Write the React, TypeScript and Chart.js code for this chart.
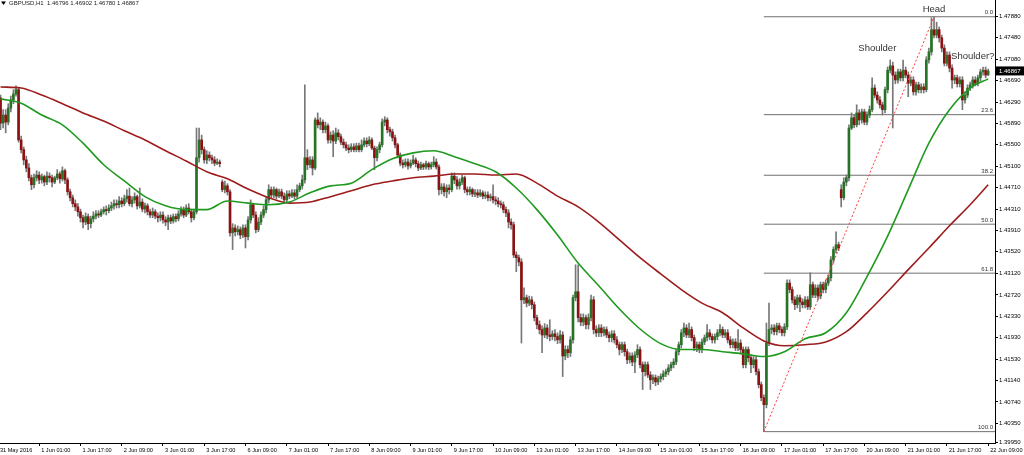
import React, { useEffect, useRef } from 'react';
import { Chart, registerables } from 'chart.js';

Chart.register(...registerables);

// ---- Data (GBPUSD H1, one bar per hour, bar index 0 = 31 May 10:00) ----
const opens = [
1.4637,1.4590,1.4605,1.4592,1.4618,1.4633,1.4644,1.4652,1.4559,1.4541,
1.4522,1.4507,1.4489,1.4476,1.4489,1.4494,1.4485,1.4491,1.4481,1.4492,
1.4489,1.4481,1.4489,1.4496,1.4487,1.4502,1.4485,1.4463,1.4452,1.4441,
1.4435,1.4426,1.4415,1.4407,1.4417,1.4404,1.4413,1.4418,1.4422,1.4420,
1.4426,1.4430,1.4428,1.4433,1.4437,1.4441,1.4439,1.4446,1.4441,1.4450,
1.4455,1.4441,1.4448,1.4454,1.4437,1.4444,1.4431,1.4437,1.4426,1.4420,
1.4426,1.4418,1.4415,1.4420,1.4411,1.4407,1.4415,1.4409,1.4417,1.4413,
1.4422,1.4430,1.4420,1.4433,1.4426,1.4415,1.4426,1.4526,1.4559,1.4541,
1.4522,1.4531,1.4526,1.4522,1.4516,1.4518,1.4481,1.4467,1.4474,1.4463,
1.4387,1.4396,1.4389,1.4393,1.4383,1.4396,1.4380,1.4411,1.4439,1.4420,
1.4393,1.4407,1.4420,1.4430,1.4448,1.4467,1.4457,1.4467,1.4455,1.4463,
1.4455,1.4448,1.4459,1.4455,1.4461,1.4455,1.4467,1.4474,1.4485,1.4526,
1.4513,1.4522,1.4507,1.4596,1.4587,1.4592,1.4578,1.4585,1.4559,1.4568,
1.4557,1.4572,1.4565,1.4555,1.4550,1.4544,1.4541,1.4546,1.4541,1.4548,
1.4541,1.4550,1.4557,1.4552,1.4559,1.4544,1.4526,1.4541,1.4550,1.4592,
1.4596,1.4578,1.4574,1.4563,1.4550,1.4531,1.4516,1.4513,1.4518,1.4511,
1.4516,1.4522,1.4515,1.4507,1.4513,1.4509,1.4515,1.4509,1.4513,1.4518,
1.4509,1.4467,1.4472,1.4463,1.4470,1.4467,1.4492,1.4485,1.4474,1.4481,
1.4489,1.4467,1.4463,1.4467,1.4459,1.4461,1.4457,1.4461,1.4455,1.4457,
1.4452,1.4454,1.4448,1.4446,1.4441,1.4439,1.4430,1.4424,1.4407,1.4402,
1.4346,1.4341,1.4333,1.4263,1.4267,1.4257,1.4263,1.4254,1.4230,1.4217,
1.4208,1.4198,1.4211,1.4198,1.4195,1.4200,1.4195,1.4189,1.4198,1.4159,
1.4171,1.4165,1.4189,1.4267,1.4278,1.4230,1.4222,1.4230,1.4217,1.4230,
1.4263,1.4208,1.4202,1.4211,1.4202,1.4208,1.4198,1.4193,1.4200,1.4189,
1.4180,1.4171,1.4180,1.4167,1.4152,1.4159,1.4148,1.4161,1.4171,1.4143,
1.4130,1.4143,1.4124,1.4115,1.4119,1.4111,1.4117,1.4121,1.4126,1.4130,
1.4137,1.4143,1.4148,1.4167,1.4180,1.4202,1.4211,1.4198,1.4208,1.4193,
1.4174,1.4180,1.4171,1.4185,1.4193,1.4202,1.4195,1.4189,1.4195,1.4202,
1.4208,1.4198,1.4202,1.4189,1.4180,1.4185,1.4174,1.4183,1.4171,1.4143,
1.4171,1.4156,1.4143,1.4152,1.4130,1.4106,1.4082,1.4069,1.4183,1.4208,
1.4211,1.4204,1.4215,1.4208,1.4202,1.4213,1.4294,1.4282,1.4263,1.4254,
1.4267,1.4259,1.4254,1.4263,1.4250,1.4291,1.4272,1.4285,1.4270,1.4291,
1.4282,1.4294,1.4304,1.4337,1.4356,1.4365,1.4467,1.4452,1.4481,1.4489,
1.4581,1.4600,1.4587,1.4609,1.4596,1.4611,1.4592,1.4605,1.4615,1.4655,
1.4642,1.4633,1.4624,1.4615,1.4652,1.4688,1.4696,1.4679,1.4670,1.4685,
1.4674,1.4688,1.4679,1.4664,1.4670,1.4648,1.4661,1.4652,1.4657,1.4652,
1.4707,1.4722,1.4763,1.4753,1.4763,1.4748,1.4729,1.4701,1.4716,1.4692,
1.4670,1.4674,1.4663,1.4670,1.4633,1.4642,1.4655,1.4661,1.4670,1.4664,
1.4674,1.4685,1.4688,1.46796];

const highs = [
1.4642,1.4615,1.4615,1.4626,1.4640,1.4652,1.4659,1.4655,1.4566,1.4546,
1.4529,1.4515,1.4494,1.4496,1.4502,1.4500,1.4496,1.4494,1.4500,1.4498,
1.4494,1.4492,1.4504,1.4500,1.4509,1.4505,1.4489,1.4468,1.4457,1.4448,
1.4441,1.4431,1.4420,1.4424,1.4422,1.4418,1.4426,1.4428,1.4428,1.4431,
1.4435,1.4437,1.4439,1.4444,1.4448,1.4448,1.4454,1.4452,1.4457,1.4467,
1.4470,1.4454,1.4461,1.4457,1.4470,1.4450,1.4442,1.4441,1.4431,1.4433,
1.4430,1.4424,1.4426,1.4426,1.4417,1.4420,1.4420,1.4422,1.4422,1.4428,
1.4435,1.4435,1.4439,1.4441,1.4431,1.4431,1.4581,1.4581,1.4568,1.4546,
1.4539,1.4537,1.4531,1.4528,1.4524,1.4522,1.4485,1.4483,1.4478,1.4467,
1.4404,1.4402,1.4400,1.4398,1.4402,1.4402,1.4417,1.4448,1.4442,1.4426,
1.4415,1.4426,1.4437,1.4454,1.4476,1.4472,1.4472,1.4470,1.4468,1.4468,
1.4461,1.4465,1.4465,1.4467,1.4467,1.4476,1.4479,1.4494,1.4661,1.4541,
1.4528,1.4528,1.4600,1.4609,1.4600,1.4596,1.4592,1.4589,1.4574,1.4576,
1.4581,1.4578,1.4570,1.4561,1.4555,1.4550,1.4552,1.4552,1.4553,1.4553,
1.4559,1.4563,1.4563,1.4565,1.4563,1.4548,1.4546,1.4555,1.4598,1.4602,
1.4600,1.4583,1.4579,1.4568,1.4553,1.4535,1.4522,1.4524,1.4524,1.4522,
1.4531,1.4526,1.4520,1.4518,1.4516,1.4520,1.4518,1.4518,1.4528,1.4524,
1.4513,1.4478,1.4478,1.4476,1.4476,1.4498,1.4498,1.4491,1.4487,1.4494,
1.4492,1.4472,1.4472,1.4470,1.4467,1.4467,1.4467,1.4465,1.4463,1.4463,
1.4459,1.4476,1.4454,1.4452,1.4446,1.4444,1.4435,1.4430,1.4413,1.4407,
1.4352,1.4346,1.4339,1.4285,1.4272,1.4270,1.4269,1.4259,1.4235,1.4224,
1.4215,1.4219,1.4217,1.4226,1.4206,1.4208,1.4202,1.4206,1.4204,1.4178,
1.4178,1.4195,1.4272,1.4328,1.4328,1.4237,1.4237,1.4235,1.4237,1.4272,
1.4269,1.4215,1.4217,1.4217,1.4213,1.4213,1.4204,1.4206,1.4206,1.4195,
1.4185,1.4185,1.4185,1.4172,1.4165,1.4165,1.4167,1.4180,1.4176,1.4148,
1.4148,1.4148,1.4130,1.4124,1.4124,1.4122,1.4126,1.4132,1.4135,1.4143,
1.4148,1.4154,1.4172,1.4185,1.4208,1.4220,1.4217,1.4220,1.4213,1.4198,
1.4185,1.4185,1.4191,1.4198,1.4217,1.4208,1.4200,1.4200,1.4208,1.4217,
1.4213,1.4208,1.4208,1.4195,1.4191,1.4191,1.4208,1.4189,1.4176,1.4176,
1.4176,1.4161,1.4158,1.4158,1.4135,1.4111,1.4087,1.4220,1.4257,1.4217,
1.4217,1.4220,1.4220,1.4213,1.4219,1.4300,1.4300,1.4287,1.4269,1.4272,
1.4272,1.4265,1.4269,1.4269,1.4313,1.4296,1.4291,1.4291,1.4296,1.4296,
1.4300,1.4309,1.4343,1.4361,1.4389,1.4370,1.4476,1.4489,1.4494,1.4587,
1.4609,1.4605,1.4624,1.4615,1.4616,1.4616,1.4611,1.4622,1.4674,1.4661,
1.4648,1.4639,1.4629,1.4657,1.4694,1.4707,1.4703,1.4685,1.4690,1.4690,
1.4707,1.4694,1.4685,1.4676,1.4676,1.4666,1.4666,1.4663,1.4663,1.4713,
1.4729,1.4785,1.4787,1.4777,1.4768,1.4753,1.4735,1.4722,1.4722,1.4698,
1.4679,1.4679,1.4676,1.4676,1.4648,1.4661,1.4666,1.4676,1.4676,1.4679,
1.4690,1.4694,1.4694,1.46902];

const lows = [
1.4578,1.4581,1.4572,1.4587,1.4611,1.4626,1.4640,1.4555,1.4535,1.4513,
1.4500,1.4483,1.4467,1.4470,1.4483,1.4478,1.4479,1.4474,1.4476,1.4481,
1.4472,1.4478,1.4485,1.4479,1.4483,1.4478,1.4457,1.4446,1.4435,1.4428,
1.4418,1.4407,1.4396,1.4402,1.4393,1.4396,1.4407,1.4413,1.4415,1.4417,
1.4422,1.4420,1.4424,1.4428,1.4431,1.4433,1.4433,1.4435,1.4437,1.4444,
1.4437,1.4435,1.4442,1.4431,1.4433,1.4426,1.4424,1.4420,1.4415,1.4415,
1.4413,1.4407,1.4409,1.4405,1.4400,1.4393,1.4404,1.4405,1.4407,1.4409,
1.4418,1.4415,1.4417,1.4422,1.4407,1.4411,1.4422,1.4518,1.4533,1.4516,
1.4515,1.4520,1.4515,1.4511,1.4513,1.4509,1.4463,1.4461,1.4457,1.4381,
1.4356,1.4381,1.4383,1.4376,1.4378,1.4359,1.4374,1.4405,1.4415,1.4387,
1.4389,1.4402,1.4415,1.4424,1.4442,1.4452,1.4452,1.4450,1.4452,1.4450,
1.4442,1.4444,1.4450,1.4452,1.4450,1.4452,1.4463,1.4468,1.4479,1.4504,
1.4507,1.4494,1.4504,1.4581,1.4578,1.4572,1.4572,1.4553,1.4553,1.4528,
1.4552,1.4559,1.4550,1.4544,1.4539,1.4535,1.4537,1.4537,1.4537,1.4537,
1.4537,1.4546,1.4546,1.4548,1.4541,1.4504,1.4520,1.4535,1.4546,1.4585,
1.4572,1.4566,1.4557,1.4544,1.4526,1.4511,1.4507,1.4509,1.4505,1.4507,
1.4513,1.4509,1.4502,1.4504,1.4504,1.4505,1.4504,1.4505,1.4509,1.4505,
1.4457,1.4459,1.4455,1.4452,1.4459,1.4463,1.4478,1.4468,1.4468,1.4476,
1.4461,1.4457,1.4457,1.4454,1.4454,1.4452,1.4454,1.4450,1.4450,1.4446,
1.4446,1.4442,1.4439,1.4435,1.4433,1.4424,1.4417,1.4396,1.4394,1.4341,
1.4315,1.4326,1.4183,1.4256,1.4250,1.4252,1.4246,1.4224,1.4209,1.4200,
1.4165,1.4193,1.4191,1.4187,1.4189,1.4187,1.4182,1.4183,1.4121,1.4152,
1.4156,1.4158,1.4183,1.4261,1.4222,1.4215,1.4215,1.4209,1.4209,1.4224,
1.4200,1.4195,1.4195,1.4195,1.4196,1.4193,1.4185,1.4185,1.4183,1.4174,
1.4161,1.4165,1.4159,1.4145,1.4146,1.4141,1.4128,1.4156,1.4137,1.4097,
1.4122,1.4119,1.4097,1.4108,1.4104,1.4106,1.4111,1.4115,1.4121,1.4124,
1.4132,1.4137,1.4143,1.4161,1.4174,1.4195,1.4193,1.4193,1.4187,1.4169,
1.4167,1.4165,1.4165,1.4180,1.4187,1.4189,1.4183,1.4183,1.4189,1.4196,
1.4193,1.4193,1.4183,1.4174,1.4174,1.4169,1.4169,1.4165,1.4137,1.4137,
1.4148,1.4128,1.4137,1.4124,1.4100,1.4076,1.4019,1.4063,1.4178,1.4200,
1.4198,1.4198,1.4202,1.4196,1.4196,1.4208,1.4276,1.4257,1.4245,1.4248,
1.4241,1.4248,1.4248,1.4245,1.4245,1.4267,1.4267,1.4263,1.4265,1.4276,
1.4276,1.4289,1.4298,1.4331,1.4350,1.4354,1.4435,1.4448,1.4474,1.4483,
1.4578,1.4581,1.4583,1.4587,1.4590,1.4587,1.4587,1.4600,1.4611,1.4637,
1.4627,1.4618,1.4605,1.4609,1.4646,1.4683,1.4581,1.4663,1.4664,1.4668,
1.4668,1.4674,1.4639,1.4659,1.4642,1.4642,1.4646,1.4646,1.4646,1.4648,
1.4701,1.4716,1.4748,1.4748,1.4740,1.4722,1.4696,1.4696,1.4685,1.4655,
1.4663,1.4657,1.4657,1.4615,1.4627,1.4637,1.4650,1.4655,1.4659,1.4659,
1.4668,1.4679,1.4674,1.46780];

const closes = [
1.4590,1.4605,1.4592,1.4618,1.4633,1.4644,1.4652,1.4559,1.4541,1.4522,
1.4507,1.4489,1.4476,1.4489,1.4494,1.4485,1.4491,1.4481,1.4492,1.4489,
1.4481,1.4489,1.4496,1.4487,1.4502,1.4485,1.4463,1.4452,1.4441,1.4435,
1.4426,1.4415,1.4407,1.4417,1.4404,1.4413,1.4418,1.4422,1.4420,1.4426,
1.4430,1.4428,1.4433,1.4437,1.4441,1.4439,1.4446,1.4441,1.4450,1.4455,
1.4441,1.4448,1.4454,1.4437,1.4444,1.4431,1.4437,1.4426,1.4420,1.4426,
1.4418,1.4415,1.4420,1.4411,1.4407,1.4415,1.4409,1.4417,1.4413,1.4422,
1.4430,1.4420,1.4433,1.4426,1.4415,1.4426,1.4526,1.4559,1.4541,1.4522,
1.4531,1.4526,1.4522,1.4516,1.4518,1.4515,1.4467,1.4474,1.4463,1.4387,
1.4396,1.4389,1.4393,1.4383,1.4396,1.4380,1.4411,1.4439,1.4420,1.4393,
1.4407,1.4420,1.4430,1.4448,1.4467,1.4457,1.4467,1.4455,1.4463,1.4455,
1.4448,1.4459,1.4455,1.4461,1.4455,1.4467,1.4474,1.4485,1.4526,1.4513,
1.4522,1.4507,1.4596,1.4587,1.4592,1.4578,1.4585,1.4559,1.4568,1.4557,
1.4572,1.4565,1.4555,1.4550,1.4544,1.4541,1.4546,1.4541,1.4548,1.4541,
1.4550,1.4557,1.4552,1.4559,1.4544,1.4526,1.4541,1.4550,1.4592,1.4596,
1.4578,1.4574,1.4563,1.4550,1.4531,1.4516,1.4513,1.4518,1.4511,1.4516,
1.4522,1.4515,1.4507,1.4513,1.4509,1.4515,1.4509,1.4513,1.4518,1.4509,
1.4467,1.4472,1.4463,1.4470,1.4467,1.4492,1.4485,1.4474,1.4481,1.4489,
1.4467,1.4463,1.4467,1.4459,1.4461,1.4457,1.4461,1.4455,1.4457,1.4452,
1.4454,1.4448,1.4446,1.4441,1.4439,1.4430,1.4424,1.4407,1.4402,1.4346,
1.4341,1.4333,1.4263,1.4267,1.4257,1.4263,1.4254,1.4230,1.4217,1.4208,
1.4198,1.4211,1.4198,1.4195,1.4200,1.4195,1.4189,1.4198,1.4159,1.4171,
1.4165,1.4189,1.4267,1.4278,1.4230,1.4222,1.4230,1.4217,1.4230,1.4263,
1.4208,1.4202,1.4211,1.4202,1.4208,1.4198,1.4193,1.4200,1.4189,1.4180,
1.4171,1.4180,1.4167,1.4152,1.4159,1.4148,1.4161,1.4171,1.4143,1.4130,
1.4143,1.4124,1.4115,1.4119,1.4111,1.4117,1.4121,1.4126,1.4130,1.4137,
1.4143,1.4148,1.4167,1.4180,1.4202,1.4211,1.4198,1.4208,1.4193,1.4174,
1.4180,1.4171,1.4185,1.4193,1.4202,1.4195,1.4189,1.4195,1.4202,1.4208,
1.4198,1.4202,1.4189,1.4180,1.4185,1.4174,1.4183,1.4171,1.4143,1.4171,
1.4156,1.4143,1.4152,1.4130,1.4106,1.4082,1.4069,1.4183,1.4208,1.4211,
1.4204,1.4215,1.4208,1.4202,1.4213,1.4294,1.4282,1.4263,1.4254,1.4267,
1.4259,1.4254,1.4263,1.4250,1.4291,1.4272,1.4285,1.4270,1.4291,1.4282,
1.4294,1.4304,1.4337,1.4356,1.4365,1.4359,1.4452,1.4481,1.4489,1.4581,
1.4600,1.4587,1.4609,1.4596,1.4611,1.4592,1.4605,1.4615,1.4655,1.4642,
1.4633,1.4624,1.4615,1.4652,1.4688,1.4696,1.4679,1.4670,1.4685,1.4674,
1.4688,1.4679,1.4664,1.4670,1.4648,1.4661,1.4652,1.4657,1.4652,1.4707,
1.4722,1.4763,1.4753,1.4763,1.4748,1.4729,1.4701,1.4716,1.4692,1.4670,
1.4674,1.4663,1.4670,1.4633,1.4642,1.4655,1.4661,1.4670,1.4664,1.4674,
1.4685,1.4688,1.4679,1.46867];

// moving averages, read at every 8th bar
const maBars = [0,8,16,24,32,40,48,56,64,72,80,88,96,104,112,120,128,136,144,152,160,168,176,184,192,200,208,216,224,232,240,248,256,264,272,280,288,296,304,312,320,328,336,344,352,360,368,376,383];
const maFast = [
1.4635,1.4627,1.4605,1.4587,1.4553,1.4513,1.4483,1.4454,1.4437,1.4430,
1.4430,1.4446,1.4442,1.4439,1.4444,1.4461,1.4474,1.4479,1.4504,1.4524,
1.4535,1.4539,1.4528,1.4515,1.4500,1.4470,1.4430,1.4383,1.4331,1.4289,
1.4246,1.4209,1.4182,1.4171,1.4171,1.4167,1.4163,1.4158,1.4167,1.4191,
1.4202,1.4239,1.4306,1.4381,1.4467,1.4553,1.4615,1.4655,1.4672];
const maSlow = [
1.4657,1.4655,1.4642,1.4626,1.4609,1.4594,1.4576,1.4559,1.4539,1.4520,
1.4500,1.4487,1.4468,1.4452,1.4442,1.4444,1.4454,1.4465,1.4476,1.4483,
1.4489,1.4492,1.4496,1.4496,1.4494,1.4496,1.4479,1.4455,1.4435,1.4407,
1.4374,1.4341,1.4311,1.4282,1.4257,1.4239,1.4211,1.4187,1.4178,1.4180,
1.4185,1.4204,1.4239,1.4278,1.4319,1.4359,1.4400,1.4439,1.4476];

const xTickBars = [-1,15,31,47,63,79,95,111,127,143,159,175,191,207,223,239,255,271,287,303,319,335,351,367,383];
const xTickLabels = ['31 May 2016','1 Jun 01:00','1 Jun 17:00','2 Jun 09:00','3 Jun 01:00','3 Jun 17:00','6 Jun 09:00','7 Jun 01:00','7 Jun 17:00','8 Jun 09:00','9 Jun 01:00','9 Jun 17:00','10 Jun 09:00','13 Jun 01:00','13 Jun 17:00','14 Jun 09:00','15 Jun 01:00','15 Jun 17:00','16 Jun 09:00','17 Jun 01:00','17 Jun 17:00','20 Jun 09:00','21 Jun 01:00','21 Jun 17:00','22 Jun 09:00'];
const yTickValues = [1.4788,1.4748,1.4708,1.4669,1.4629,1.4589,1.4550,1.4510,1.4471,1.4431,1.4391,1.4352,1.4312,1.4272,1.4233,1.4193,1.4153,1.4114,1.4074,1.4035];
const yBottomLabel = '1.39950';

const fibHigh = 1.4787;
const fibLow = 1.4019;
const fibLowBar = 296;
const fibHighBar = 362;
const fibLevels = [0, 23.6, 38.2, 50, 61.8, 100];

const annoTexts = ['Head', 'Shoulder', 'Shoulder?'];
const annoBars = [362, 340, 377];
const annoPrices = [1.4801, 1.4729, 1.4713];
const symbolName = 'GBPUSD,H1';

// ---- layout / style ----
const X_MIN = -0.2;
const X_MAX = 385.64;
const Y_MIN = 1.3998;
const Y_MAX = 1.4818;
const FONT = '"Liberation Sans", Arial, sans-serif';
const BULL = '#267326';
const BEAR = '#8a1212';
const WICK = '#777777';

export default function App() {
  const ref = useRef<HTMLCanvasElement>(null);

  useEffect(() => {
    document.body.style.margin = '0';
    const canvas = ref.current;
    if (!canvas) return;
    const idx = closes.map((_, i) => i);
    const last = closes.length - 1;

    const wickData = idx.map((i) => ({ x: i, y: [lows[i], highs[i]] }));
    const bodyData = idx.map((i) => ({ x: i, y: [opens[i], closes[i]] }));
    const bodyColors = idx.map((i) => (closes[i] >= opens[i] ? BULL : BEAR));

    const fibPrice = (lv: number) => fibHigh - (lv / 100) * (fibHigh - fibLow);

    const fibSets = fibLevels.map((lv) => ({
      type: 'line' as const,
      data: [
        { x: fibLowBar, y: fibPrice(lv) },
        { x: X_MAX, y: fibPrice(lv) },
      ],
      borderColor: '#707070',
      borderWidth: 1,
      pointRadius: 0,
      order: 10,
    }));

    const overlay = {
      id: 'overlay',
      afterDraw(chart: any) {
        const { ctx, chartArea } = chart;
        const xs = chart.scales.x;
        const ys = chart.scales.y;
        ctx.save();
        // fib labels
        ctx.font = `6px ${FONT}`;
        ctx.fillStyle = '#333';
        ctx.textAlign = 'right';
        ctx.textBaseline = 'bottom';
        fibLevels.forEach((lv) => {
          ctx.fillText(lv.toFixed(1), chartArea.right - 2, ys.getPixelForValue(fibPrice(lv)) - 1);
        });
        // annotations
        ctx.font = `9.5px ${FONT}`;
        ctx.fillStyle = '#333';
        ctx.textAlign = 'center';
        ctx.textBaseline = 'middle';
        annoTexts.forEach((t, k) => {
          ctx.fillText(t, xs.getPixelForValue(annoBars[k]), ys.getPixelForValue(annoPrices[k]));
        });
        // header
        ctx.fillStyle = '#000';
        ctx.beginPath();
        ctx.moveTo(1, 1.5);
        ctx.lineTo(6, 1.5);
        ctx.lineTo(3.5, 5);
        ctx.closePath();
        ctx.fill();
        ctx.font = `6px ${FONT}`;
        ctx.textAlign = 'left';
        ctx.textBaseline = 'middle';
        ctx.fillStyle = '#222';
        ctx.fillText(
          `${symbolName}  ${opens[last].toFixed(5)} ${highs[last].toFixed(5)} ${lows[last].toFixed(5)} ${closes[last].toFixed(5)}`,
          9,
          3.5
        );
        // bottom price label
        const by = chartArea.bottom - 1;
        ctx.strokeStyle = '#000';
        ctx.lineWidth = 1;
        ctx.beginPath();
        ctx.moveTo(chartArea.right, by + 0.5);
        ctx.lineTo(chartArea.right + 3, by + 0.5);
        ctx.stroke();
        ctx.fillStyle = '#000';
        ctx.fillText(yBottomLabel, chartArea.right + 4, by);
        // current price box
        const py = ys.getPixelForValue(closes[last]);
        ctx.fillStyle = '#000';
        ctx.fillRect(chartArea.right + 1, py - 4.5, chart.width - chartArea.right - 1, 9);
        ctx.fillStyle = '#fff';
        ctx.fillText(closes[last].toFixed(5), chartArea.right + 4, py);
        ctx.restore();
      },
    };

    const chart = new Chart(canvas, {
      type: 'bar',
      data: {
        datasets: [
          {
            type: 'line',
            data: [
              { x: fibLowBar, y: fibLow },
              { x: fibHighBar, y: fibHigh },
            ],
            borderColor: '#ff3b3b',
            borderWidth: 1,
            borderDash: [2, 2],
            pointRadius: 0,
            order: 0,
          } as any,
          {
            type: 'line',
            data: maBars.map((b, k) => ({ x: b, y: maFast[k] })),
            borderColor: '#1f9a1f',
            borderWidth: 1.6,
            pointRadius: 0,
            cubicInterpolationMode: 'monotone',
            order: 1,
          } as any,
          {
            type: 'line',
            data: maBars.map((b, k) => ({ x: b, y: maSlow[k] })),
            borderColor: '#9e1c1c',
            borderWidth: 1.6,
            pointRadius: 0,
            cubicInterpolationMode: 'monotone',
            order: 2,
          } as any,
          {
            type: 'bar',
            data: bodyData,
            backgroundColor: bodyColors,
            borderWidth: 0,
            barThickness: 2,
            minBarLength: 1,
            grouped: false,
            order: 3,
          } as any,
          {
            type: 'bar',
            data: wickData,
            backgroundColor: WICK,
            borderWidth: 0,
            barThickness: 1,
            grouped: false,
            order: 4,
          } as any,
          ...(fibSets as any[]),
        ],
      },
      options: {
        animation: false,
        responsive: false,
        maintainAspectRatio: false,
        layout: { padding: 0 },
        plugins: { legend: { display: false }, tooltip: { enabled: false } },
        scales: {
          x: {
            type: 'linear',
            min: X_MIN,
            max: X_MAX,
            offset: false,
            position: 'bottom',
            bounds: 'data',
            grid: { drawOnChartArea: false, drawTicks: true, tickLength: 3, color: '#000', offset: false },
            border: { display: true, color: '#000', width: 1 },
            ticks: {
              autoSkip: false,
              maxRotation: 0,
              minRotation: 0,
              align: 'start',
              labelOffset: 2,
              padding: 1,
              color: '#000',
              font: { size: 5.6, family: FONT },
              callback: (v: any) => {
                const k = xTickBars.indexOf(Number(v));
                return k >= 0 ? xTickLabels[k] : '';
              },
            },
            afterBuildTicks: (s: any) => {
              s.ticks = xTickBars.map((v) => ({ value: v }));
            },
            afterFit: (s: any) => {
              s.height = 12;
              s.paddingLeft = 0;
              s.paddingRight = 0;
            },
          },
          y: {
            type: 'linear',
            position: 'right',
            min: Y_MIN,
            max: Y_MAX,
            bounds: 'data',
            grid: { drawOnChartArea: false, drawTicks: true, tickLength: 3, color: '#000' },
            border: { display: true, color: '#000', width: 1 },
            ticks: {
              padding: 1,
              color: '#000',
              font: { size: 6, family: FONT },
              callback: (v: any) => Number(v).toFixed(5),
            },
            afterBuildTicks: (s: any) => {
              s.ticks = yTickValues.map((v) => ({ value: v }));
            },
            afterFit: (s: any) => {
              s.width = 29;
              s.paddingTop = 0;
              s.paddingBottom = 0;
            },
          },
        },
      } as any,
      plugins: [overlay],
    });

    return () => chart.destroy();
  }, []);

  return (
    <div style={{ width: 1024, height: 455, background: '#fff', position: 'relative' }}>
      <canvas ref={ref} width={1024} height={455} style={{ width: 1024, height: 455, display: 'block' }} />
    </div>
  );
}
